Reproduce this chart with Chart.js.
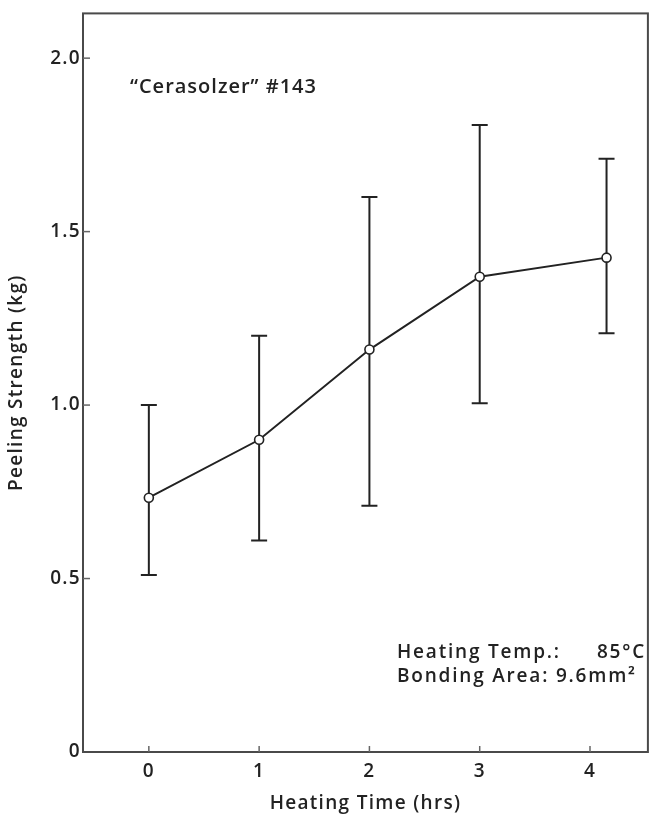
<!DOCTYPE html>
<html>
<head>
<meta charset="utf-8">
<script src="https://cdn.jsdelivr.net/npm/chart.js@4.4.1/dist/chart.umd.min.js"></script>
<style>
  html, body { margin: 0; padding: 0; background: #fff; }
  #wrap { width: 654px; height: 815px; }
</style>
</head>
<body>
<div id="wrap"><canvas id="c" width="654" height="815"></canvas></div>
<script>
// ---- data ----
const heatingTime   = [0, 1, 2, 3, 4.15];
const peelMean      = [0.733, 0.90, 1.16, 1.37, 1.425];
const peelHigh      = [1.0, 1.2, 1.6, 1.807, 1.71];
const peelLow       = [0.51, 0.61, 0.71, 1.005, 1.207];
const xTickValues   = [0, 1, 2, 3, 4];
const yTickValues   = [0, 0.5, 1.0, 1.5, 2.0];
const yTickLabels   = ['0', '0.5', '1.0', '1.5', '2.0'];
const titleText     = '\u201CCerasolzer\u201D #143';
const noteLines     = [['Heating Temp.:', '85\u00B0C'], ['Bonding Area:', '9.6mm\u00B2']];

const INK = '#222222';
const FONT = '"Open Sans", "DejaVu Sans", sans-serif';
const WEIGHT = '600';
const SPACING = '1.3px';

const points = heatingTime.map((t, i) => ({ x: t, y: peelMean[i] }));

const spacingPlugin = {
  id: 'spacing',
  beforeInit(chart) { chart.ctx.letterSpacing = SPACING; },
  beforeUpdate(chart) { chart.ctx.letterSpacing = SPACING; },
  beforeLayout(chart) { chart.ctx.letterSpacing = SPACING; },
  beforeDraw(chart) { chart.ctx.letterSpacing = SPACING; }
};

const decorPlugin = {
  id: 'decor',
  beforeDatasetsDraw(chart) {
    const { ctx, chartArea: a, scales: { x, y } } = chart;
    ctx.save();
    // frame
    ctx.strokeStyle = '#4a4a4a';
    ctx.lineWidth = 2;
    ctx.strokeRect(a.left, a.top, a.right - a.left, a.bottom - a.top);
    // inward ticks
    ctx.lineWidth = 1.5;
    ctx.strokeStyle = '#666';
    yTickValues.forEach(v => {
      if (v === 0) return;
      const py = y.getPixelForValue(v);
      ctx.beginPath(); ctx.moveTo(a.left, py); ctx.lineTo(a.left + 7, py); ctx.stroke();
    });
    xTickValues.forEach(v => {
      const px = x.getPixelForValue(v);
      ctx.beginPath(); ctx.moveTo(px, a.bottom); ctx.lineTo(px, a.bottom - 6); ctx.stroke();
    });
    // error bars
    ctx.strokeStyle = INK;
    ctx.lineWidth = 2;
    heatingTime.forEach((t, i) => {
      const px = x.getPixelForValue(t);
      const pHi = y.getPixelForValue(peelHigh[i]);
      const pLo = y.getPixelForValue(peelLow[i]);
      ctx.beginPath();
      ctx.moveTo(px, pHi); ctx.lineTo(px, pLo);
      ctx.moveTo(px - 8, pHi); ctx.lineTo(px + 8, pHi);
      ctx.moveTo(px - 8, pLo); ctx.lineTo(px + 8, pLo);
      ctx.stroke();
    });
    ctx.restore();
  },
  afterDraw(chart) {
    const { ctx } = chart;
    ctx.save();
    ctx.fillStyle = INK;
    ctx.textBaseline = 'middle';
    ctx.font = WEIGHT + ' 20px ' + FONT;
    ctx.letterSpacing = '1px';
    ctx.textAlign = 'left';
    ctx.fillText(titleText, 130, 87);
    ctx.font = WEIGHT + ' 19px ' + FONT;
    ctx.letterSpacing = '1.8px';
    ctx.fillText(noteLines[0][0], 397, 653);
    ctx.textAlign = 'right';
    ctx.fillText(noteLines[0][1], 646, 653);
    ctx.textAlign = 'left';
    ctx.fillText(noteLines[1][0] + ' ' + noteLines[1][1], 397, 677);
    ctx.restore();
  }
};

const axisFont = { family: FONT, size: 19, weight: WEIGHT };

new Chart(document.getElementById('c'), {
  type: 'scatter',
  data: {
    datasets: [{
      data: points,
      showLine: true,
      tension: 0,
      borderColor: INK,
      borderWidth: 2,
      pointRadius: 4.5,
      pointBackgroundColor: '#fff',
      pointBorderColor: INK,
      pointBorderWidth: 1.6
    }]
  },
  options: {
    responsive: false,
    animation: false,
    events: [],
    layout: { padding: { left: 0, right: 5, top: 11, bottom: 0 } },
    plugins: { legend: { display: false }, tooltip: { enabled: false } },
    scales: {
      x: {
        type: 'linear',
        min: -0.597,
        max: 4.525,
        grid: { display: false, drawTicks: false },
        border: { display: false },
        afterBuildTicks: s => { s.ticks = xTickValues.map(v => ({ value: v })); },
        afterFit: s => { s.height = 63; },
        ticks: {
          color: INK,
          font: axisFont,
          padding: 8,
          maxRotation: 0,
          callback: v => String(v)
        },
        title: {
          display: true,
          text: 'Heating Time (hrs)',
          color: INK,
          font: axisFont,
          padding: { top: 0, bottom: 0 }
        }
      },
      y: {
        type: 'linear',
        min: 0,
        max: 2.129,
        grid: { display: false, drawTicks: false },
        border: { display: false },
        afterBuildTicks: s => { s.ticks = yTickValues.map(v => ({ value: v })); },
        afterFit: s => { s.width = 83; },
        ticks: {
          color: INK,
          font: axisFont,
          padding: 2,
          callback: (v) => { const i = yTickValues.indexOf(v); return i >= 0 ? yTickLabels[i] : ''; }
        },
        title: {
          display: true,
          text: 'Peeling Strength (kg)',
          color: INK,
          font: axisFont,
          padding: { top: 5, bottom: 0 }
        }
      }
    }
  },
  plugins: [spacingPlugin, decorPlugin]
});
</script>
</body>
</html>
